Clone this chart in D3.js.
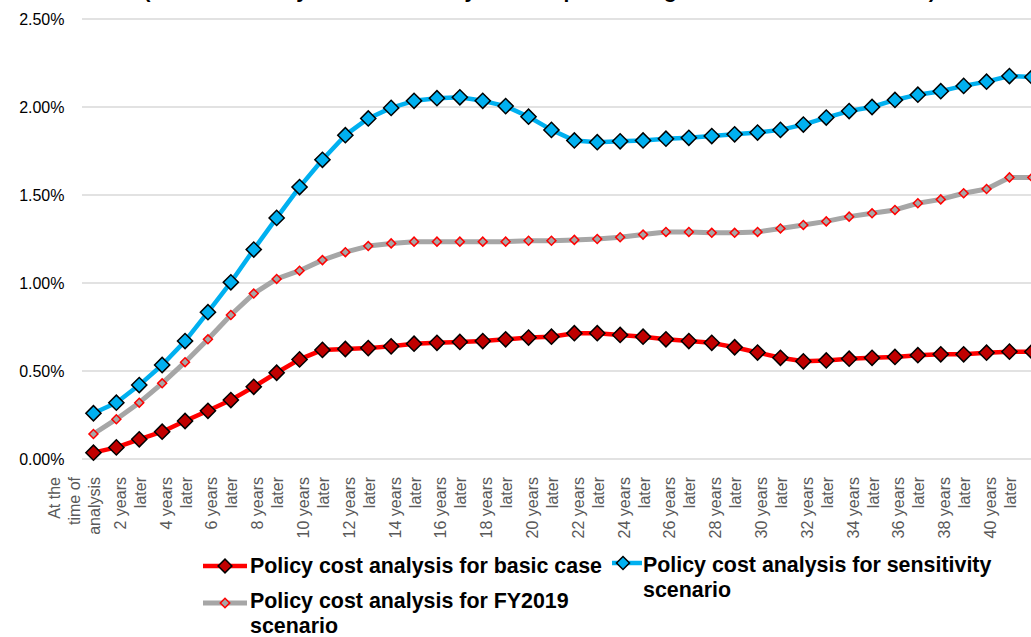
<!DOCTYPE html>
<html><head><meta charset="utf-8">
<script src="https://cdn.jsdelivr.net/npm/d3@7"></script>
<style>html,body{margin:0;padding:0;background:#fff;overflow:hidden}</style>
</head><body>
<svg id="chart" width="1031" height="637"></svg>
<script>
// ---- data ----
const categories = [
  "At the\ntime of\nanalysis","1 year\nlater","2 years\nlater","3 years\nlater","4 years\nlater","5 years\nlater",
  "6 years\nlater","7 years\nlater","8 years\nlater","9 years\nlater","10 years\nlater","11 years\nlater",
  "12 years\nlater","13 years\nlater","14 years\nlater","15 years\nlater","16 years\nlater","17 years\nlater",
  "18 years\nlater","19 years\nlater","20 years\nlater","21 years\nlater","22 years\nlater","23 years\nlater",
  "24 years\nlater","25 years\nlater","26 years\nlater","27 years\nlater","28 years\nlater","29 years\nlater",
  "30 years\nlater","31 years\nlater","32 years\nlater","33 years\nlater","34 years\nlater","35 years\nlater",
  "36 years\nlater","37 years\nlater","38 years\nlater","39 years\nlater","40 years\nlater","41 years\nlater"
];
const basicCase = [0.036,0.066,0.112,0.155,0.216,0.274,0.335,0.41,0.49,0.566,0.62,0.625,0.63,0.64,0.655,0.66,0.665,0.67,0.68,0.69,0.695,0.715,0.715,0.705,0.695,0.68,0.67,0.66,0.635,0.605,0.575,0.555,0.56,0.57,0.575,0.58,0.59,0.595,0.595,0.604,0.61,0.61];
const fy2019Scenario = [0.142,0.226,0.32,0.43,0.55,0.68,0.818,0.94,1.023,1.07,1.13,1.175,1.21,1.225,1.235,1.235,1.235,1.235,1.235,1.24,1.24,1.245,1.25,1.26,1.275,1.29,1.29,1.285,1.285,1.29,1.31,1.33,1.35,1.377,1.396,1.415,1.453,1.475,1.51,1.534,1.60,1.60];
const sensitivityScenario = [0.26,0.32,0.42,0.534,0.67,0.834,1.004,1.19,1.37,1.545,1.70,1.84,1.935,1.995,2.035,2.05,2.055,2.035,2.005,1.945,1.87,1.81,1.80,1.805,1.81,1.82,1.825,1.835,1.845,1.855,1.87,1.90,1.94,1.977,2.00,2.04,2.07,2.09,2.12,2.144,2.176,2.17];
const yTickValues = [0, 0.5, 1.0, 1.5, 2.0, 2.5];
const labelInterval = 2;
const titleText = "(Ratios of Policy cost to Treasury amount per loan figure at the end of the term)";
const seriesNames = ["Policy cost analysis for basic case", "Policy cost analysis for sensitivity scenario", "Policy cost analysis for FY2019 scenario"];

// ---- layout ----
const svg = d3.select("#chart");
const plot = {left: 82, right: 1043.8, top: 19, bottom: 459};
const font = "'Liberation Sans', Arial, sans-serif";

const x = d3.scaleBand().domain(d3.range(categories.length)).range([plot.left, plot.right]).paddingInner(0).paddingOuter(0);
const cx = i => x(i) + x.bandwidth() / 2;
const y = d3.scaleLinear().domain([0, 2.5]).range([plot.bottom, plot.top]);

// title (second line, mostly above the visible area)
svg.append("text").attr("x", 143.5).attr("y", -2.5)
  .attr("font-family", font).attr("font-weight", "bold").attr("font-size", 21)
  .attr("fill", "#000").text(titleText);

// gridlines
svg.append("g").selectAll("line").data(yTickValues).join("line")
  .attr("x1", plot.left).attr("x2", plot.right)
  .attr("y1", d => y(d)).attr("y2", d => y(d))
  .attr("stroke", "#d9d9d9").attr("stroke-width", 1.3);

// y axis labels
const yAxis = d3.axisLeft(y).tickValues(yTickValues).tickFormat(d => d3.format(".2f")(d) + "%").tickSize(0).tickPadding(0);
const gy = svg.append("g").attr("transform", "translate(64.5,0)").call(yAxis);
gy.select(".domain").remove();
gy.selectAll("text").attr("font-family", font).attr("font-size", 16).attr("fill", "#000").attr("dy", "0.35em");

// x axis labels
const xlab = svg.append("g");
categories.forEach((c, i) => {
  if (i % labelInterval !== 0) return;
  const lines = c.split("\n");
  lines.forEach((ln, j) => {
    const px = cx(i) + 1 - (lines.length - 1 - j) * 20;
    xlab.append("text")
      .attr("transform", `translate(${px},477) rotate(-90)`)
      .attr("text-anchor", "end").attr("dy", "0.35em")
      .attr("font-family", font).attr("font-size", 16).attr("fill", "#595959")
      .text(ln);
  });
});

// series
const series = [
  {name: seriesNames[2], values: fy2019Scenario, line: "#a6a6a6", lw: 5, fill: "#a6a6a6", stroke: "#ff0000", size: 40, sw: 1.5},
  {name: seriesNames[0], values: basicCase, line: "#ff0000", lw: 4.5, fill: "#c00000", stroke: "#000", size: 115, sw: 1.5},
  {name: seriesNames[1], values: sensitivityScenario, line: "#00b0f0", lw: 4.5, fill: "#00b0f0", stroke: "#000", size: 115, sw: 1.5}
];
const lineGen = d3.line().x((d, i) => cx(i)).y(d => y(d));
const diamond = s => d3.symbol(d3.symbolSquare, s)();

series.forEach(s => {
  svg.append("path").datum(s.values).attr("d", lineGen)
    .attr("fill", "none").attr("stroke", s.line).attr("stroke-width", s.lw)
    .attr("stroke-linejoin", "round");
});
series.forEach(s => {
  svg.append("g").selectAll("path").data(s.values).join("path")
    .attr("d", diamond(s.size))
    .attr("transform", (d, i) => `translate(${cx(i)},${y(d)}) rotate(45)`)
    .attr("fill", s.fill).attr("stroke", s.stroke).attr("stroke-width", s.sw);
});

// legend
const legendItems = [
  {s: series[1], x1: 203, x2: 247, mx: 225, ly: 566, tx: 250, lines: ["Policy cost analysis for basic case"], ty: 573, ms: 95},
  {s: series[2], x1: 612, x2: 642, mx: 623, ly: 563, tx: 643, lines: ["Policy cost analysis for sensitivity", "scenario"], ty: 572, ms: 85},
  {s: series[0], x1: 203, x2: 247, mx: 225, ly: 603, tx: 250, lines: ["Policy cost analysis for FY2019", "scenario"], ty: 608, ms: 45}
];
const lg = svg.append("g");
legendItems.forEach(it => {
  lg.append("line").attr("x1", it.x1).attr("x2", it.x2).attr("y1", it.ly).attr("y2", it.ly)
    .attr("stroke", it.s.line).attr("stroke-width", it.s.lw);
  lg.append("path").attr("d", diamond(it.ms))
    .attr("transform", `translate(${it.mx},${it.ly}) rotate(45)`)
    .attr("fill", it.s.fill).attr("stroke", it.s.stroke).attr("stroke-width", it.s.sw);
  it.lines.forEach((t, k) => {
    lg.append("text").attr("x", it.tx).attr("y", it.ty + k * 25)
      .attr("font-family", font).attr("font-weight", "bold").attr("font-size", 21.4)
      .attr("fill", "#000").text(t);
  });
});
</script>
</body></html>
